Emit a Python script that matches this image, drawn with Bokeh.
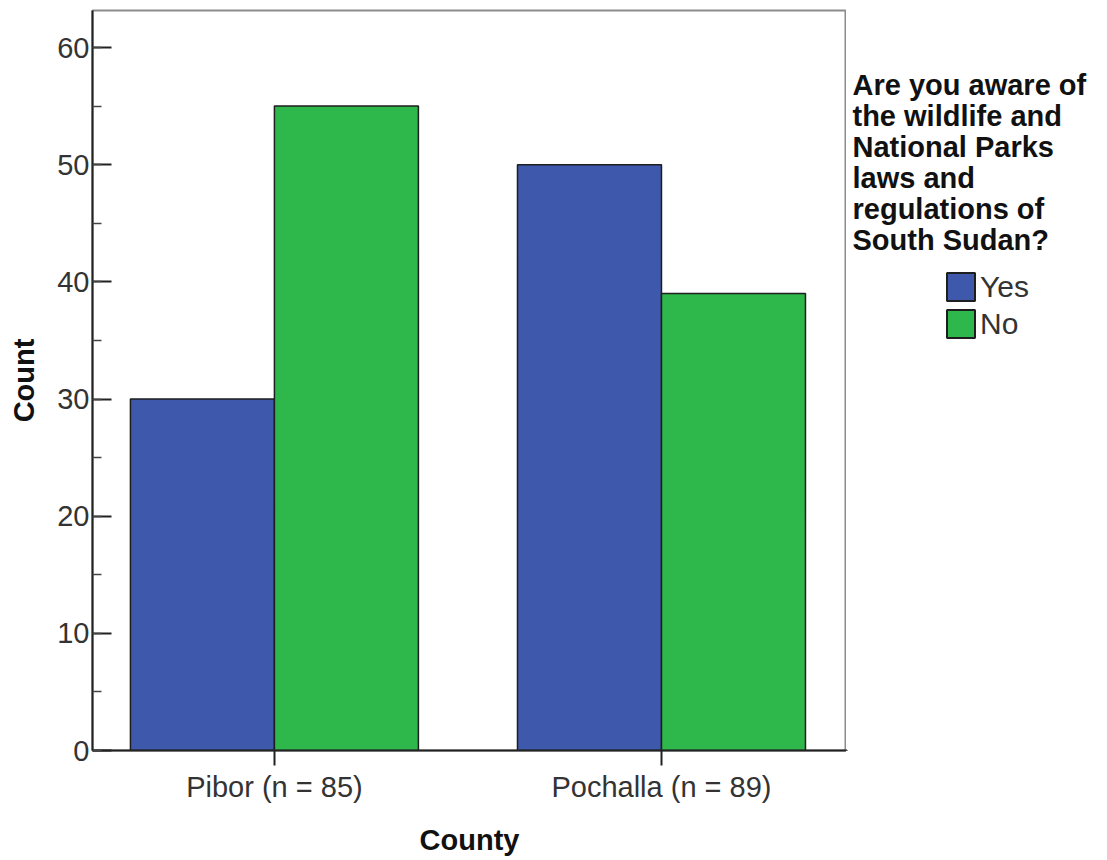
from bokeh.plotting import figure
from bokeh.layouts import row
from bokeh.models import (Range1d, FixedTicker, SingleIntervalTicker, Legend, LegendItem,
                          Label, ColumnDataSource)
from bokeh.embed import file_html
from bokeh.resources import INLINE

# ---- data ----
categories = ["Pibor (n = 85)", "Pochalla (n = 89)"]
series_names = ["Yes", "No"]
yes_counts = [30, 50]
no_counts = [55, 39]
legend_title_lines = ["Are you aware of", "the wildlife and", "National Parks",
                      "laws and", "regulations of", "South Sudan?"]

FONT = "Liberation Sans"
BLUE = "#3e58ab"
GREEN = "#2eb74a"
EDGE = "#1e1e1e"

H = 859
TOP, BOTTOM = 10, 109
FRAME_BOTTOM = H - BOTTOM  # 750 in page pixels
pos = [i + 1 for i in range(len(categories))]
bw = 0.372
src_yes = ColumnDataSource(dict(x=[p - bw / 2 for p in pos], top=yes_counts))
src_no = ColumnDataSource(dict(x=[p + bw / 2 for p in pos], top=no_counts))

p = figure(width=846, height=H, output_backend="svg", toolbar_location=None,
           x_range=Range1d(0.530, 2.478), y_range=Range1d(0, 63.16),
           min_border_left=92, min_border_top=TOP, min_border_right=0, min_border_bottom=BOTTOM)
p.xgrid.visible = False
p.ygrid.visible = False
p.outline_line_color = "#8c8c8c"
p.outline_line_width = 2
p.background_fill_color = "white"
p.border_fill_color = "white"

p.vbar(x="x", top="top", width=bw, bottom=0, source=src_yes,
       fill_color=BLUE, line_color=EDGE, line_width=1.5)
p.vbar(x="x", top="top", width=bw, bottom=0, source=src_no,
       fill_color=GREEN, line_color=EDGE, line_width=1.5)

# x axis
xa = p.xaxis[0]
xa.ticker = FixedTicker(ticks=pos)
xa.major_label_overrides = {pv: c for pv, c in zip(pos, categories)}
xa.major_tick_in = 0
xa.major_tick_out = 15
xa.minor_tick_line_color = None
xa.major_tick_line_width = 2
xa.major_tick_line_color = "#222222"
xa.axis_line_width = 2
xa.axis_line_color = "#222222"
xa.major_label_text_font = FONT
xa.major_label_text_font_size = "29px"
xa.major_label_text_color = "#333333"
xa.major_label_standoff = 5
xa.axis_label = "County"
xa.axis_label_text_font = FONT
xa.axis_label_text_font_style = "bold"
xa.axis_label_text_font_size = "29px"
xa.axis_label_text_color = "#111111"
xa.axis_label_standoff = 18

# y axis
ya = p.yaxis[0]
ya.ticker = SingleIntervalTicker(interval=10, num_minor_ticks=2)
ya.major_tick_in = 19
ya.major_tick_out = 0
ya.minor_tick_in = 9
ya.minor_tick_out = 0
ya.major_tick_line_width = 2
ya.minor_tick_line_width = 1.5
ya.major_tick_line_color = "#222222"
ya.minor_tick_line_color = "#444444"
ya.axis_line_width = 2
ya.axis_line_color = "#222222"
ya.major_label_text_font = FONT
ya.major_label_text_font_size = "29px"
ya.major_label_text_color = "#333333"
ya.major_label_standoff = 3
ya.axis_label = "Count"
ya.axis_label_text_font = FONT
ya.axis_label_text_font_style = "bold"
ya.axis_label_text_font_size = "29px"
ya.axis_label_text_color = "#111111"
ya.axis_label_standoff = 14

# ---- legend panel (separate figure to the right, no axes) ----
W2 = 258
q = figure(width=W2, height=H, output_backend="svg", toolbar_location=None,
           x_axis_type=None, y_axis_type=None,
           x_range=Range1d(1000, 1000 + W2), y_range=Range1d(1000, 1740),
           min_border_left=0, min_border_right=0, min_border_top=TOP, min_border_bottom=BOTTOM)
q.xgrid.visible = False
q.ygrid.visible = False
q.outline_line_color = None
q.background_fill_color = "white"
q.border_fill_color = "white"

baselines = [84, 115, 146, 177, 208, 239]
for line, b in zip(legend_title_lines, baselines):
    q.add_layout(Label(x=6, y=FRAME_BOTTOM - b, x_units="screen", y_units="screen", text=line,
                       text_font=FONT, text_font_style="bold", text_font_size="29px",
                       text_color="#111111", text_baseline="alphabetic", text_align="left"))

# legend renderers share the chart's data; they lie outside this panel's view
ly = q.vbar(x="x", top="top", width=bw, source=src_yes, fill_color=BLUE, line_color=EDGE, line_width=2)
ln = q.vbar(x="x", top="top", width=bw, source=src_no, fill_color=GREEN, line_color=EDGE, line_width=2)
legend = Legend(items=[LegendItem(label=series_names[0], renderers=[ly]),
                       LegendItem(label=series_names[1], renderers=[ln])],
                location=(97, FRAME_BOTTOM - 341), orientation="vertical",
                glyph_width=35, glyph_height=35, spacing=2, label_standoff=2,
                padding=0, margin=0, border_line_color=None, background_fill_alpha=0,
                label_text_font=FONT, label_text_font_size="30px", label_text_color="#333333")
q.add_layout(legend, "center")

layout = row(p, q)
open("out.html", "w").write(file_html(layout, INLINE))
